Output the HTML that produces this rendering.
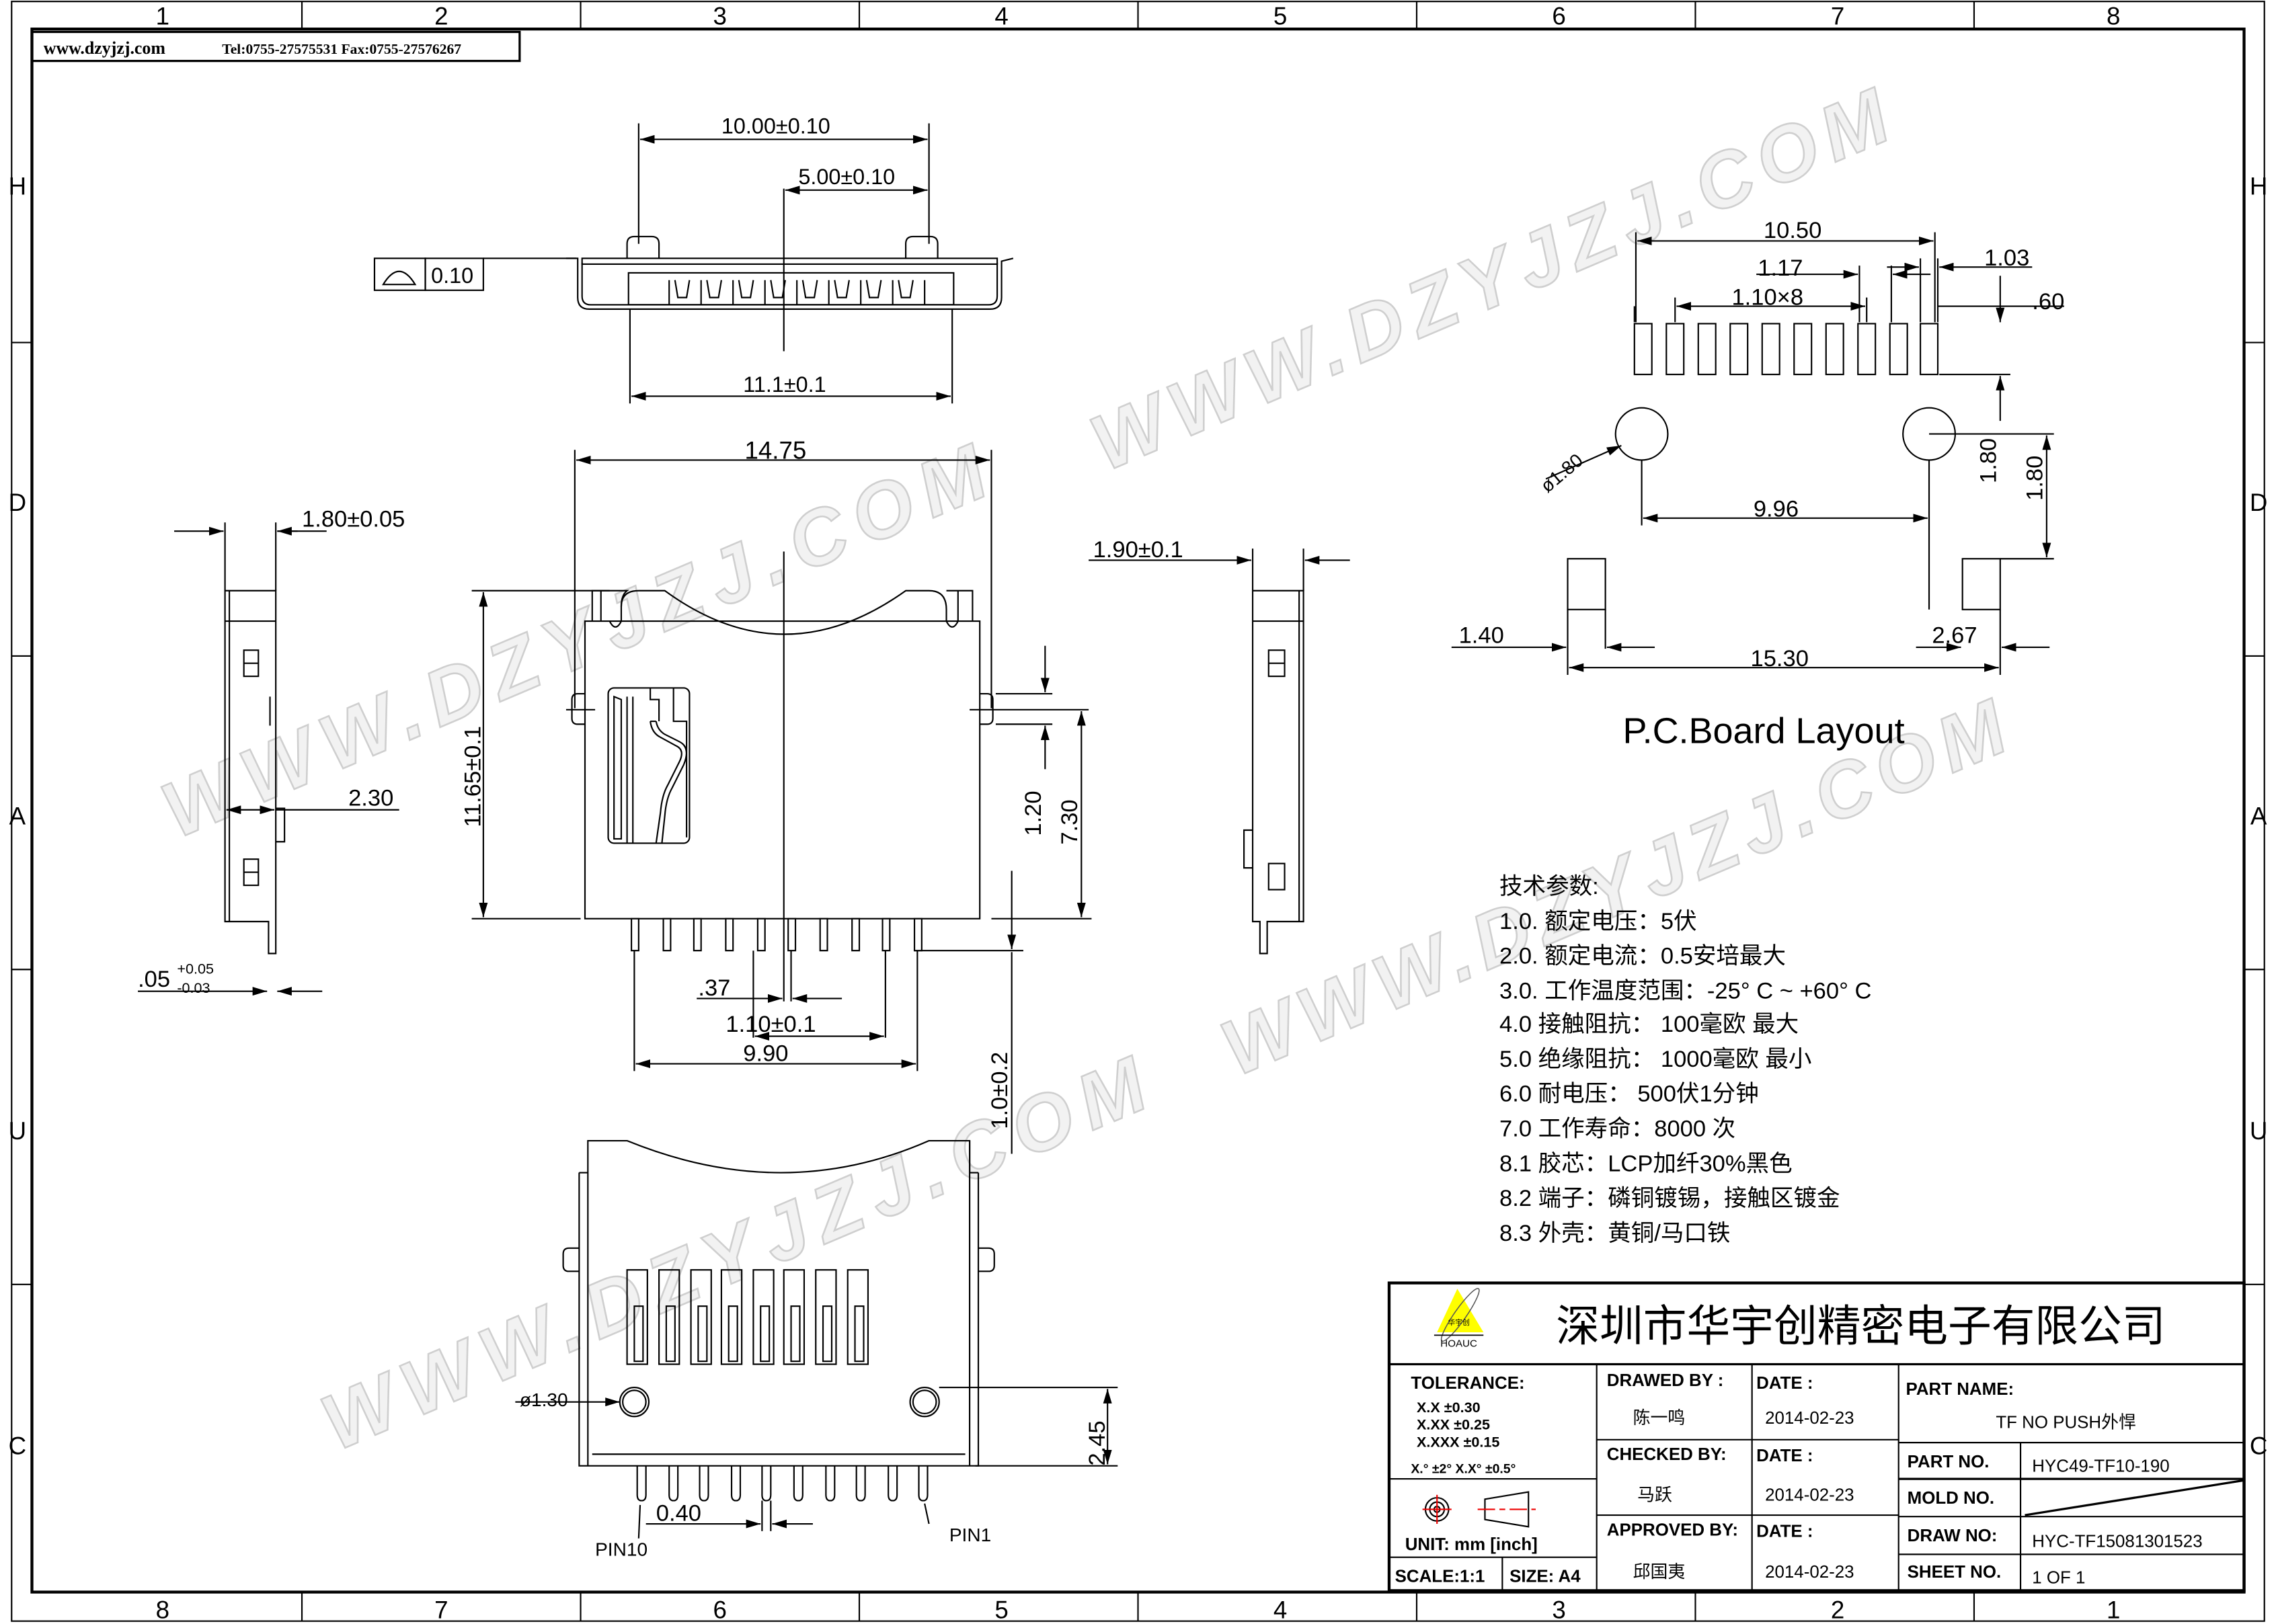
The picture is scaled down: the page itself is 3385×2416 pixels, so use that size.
<!DOCTYPE html>
<html><head><meta charset="utf-8"><style>
html,body{margin:0;padding:0;background:#fff;}
svg{display:block;}
text{font-family:"Liberation Sans","Noto Sans CJK SC",sans-serif;fill:#000;}
.cn{font-family:"Liberation Serif","Noto Serif CJK SC","Noto Sans CJK SC",serif;}
.wm{font-family:"Liberation Sans",sans-serif;font-weight:bold;font-style:italic;fill:#f2f2f2;stroke:#cfcfcf;stroke-width:1.2;font-size:54px;}
</style></head><body>
<svg width="3385" height="2416" viewBox="0 0 1568 1119" preserveAspectRatio="none" xmlns="http://www.w3.org/2000/svg">
<defs>
<marker id="a" viewBox="0 0 10 6" refX="10" refY="3" markerWidth="10" markerHeight="6" orient="auto-start-reverse" markerUnits="userSpaceOnUse"><path d="M0,0 L10,3 L0,6Z" fill="#000"/></marker>
</defs>
<rect width="1568" height="1119" fill="#fff"/>
<g>
<text class="wm" transform="translate(762,325) rotate(-23)" textLength="590" lengthAdjust="spacing">WWW.DZYJZJ.COM</text>
<text class="wm" transform="translate(122,578) rotate(-23)" textLength="610" lengthAdjust="spacing">WWW.DZYJZJ.COM</text>
<text class="wm" transform="translate(852,742) rotate(-23)" textLength="580" lengthAdjust="spacing">WWW.DZYJZJ.COM</text>
<text class="wm" transform="translate(232,1000) rotate(-23)" textLength="610" lengthAdjust="spacing">WWW.DZYJZJ.COM</text>
</g>
<g fill="none" stroke="#000">
<rect x="8" y="1" width="1552" height="1116" stroke-width="1"/>
<rect x="22" y="20" width="1524" height="1077" stroke-width="2"/>
<g stroke-width="1">
<line x1="208" y1="1" x2="208" y2="20"/><line x1="400" y1="1" x2="400" y2="20"/><line x1="592" y1="1" x2="592" y2="20"/><line x1="784" y1="1" x2="784" y2="20"/><line x1="976" y1="1" x2="976" y2="20"/><line x1="1168" y1="1" x2="1168" y2="20"/><line x1="1360" y1="1" x2="1360" y2="20"/>
<line x1="208" y1="1097" x2="208" y2="1117"/><line x1="400" y1="1097" x2="400" y2="1117"/><line x1="592" y1="1097" x2="592" y2="1117"/><line x1="784" y1="1097" x2="784" y2="1117"/><line x1="976" y1="1097" x2="976" y2="1117"/><line x1="1168" y1="1097" x2="1168" y2="1117"/><line x1="1360" y1="1097" x2="1360" y2="1117"/>
<line x1="8" y1="236" x2="22" y2="236"/><line x1="8" y1="452" x2="22" y2="452"/><line x1="8" y1="668" x2="22" y2="668"/><line x1="8" y1="885" x2="22" y2="885"/>
<line x1="1546" y1="236" x2="1560" y2="236"/><line x1="1546" y1="452" x2="1560" y2="452"/><line x1="1546" y1="668" x2="1560" y2="668"/><line x1="1546" y1="885" x2="1560" y2="885"/>
</g>
<rect x="22" y="22" width="336" height="20" stroke-width="1.5"/>
</g>
<g font-size="17" text-anchor="middle">
<text x="112" y="17">1</text><text x="304" y="17">2</text><text x="496" y="17">3</text><text x="690" y="17">4</text><text x="882" y="17">5</text><text x="1074" y="17">6</text><text x="1266" y="17">7</text><text x="1456" y="17">8</text>
<text x="112" y="1115">8</text><text x="304" y="1115">7</text><text x="496" y="1115">6</text><text x="690" y="1115">5</text><text x="882" y="1115">4</text><text x="1074" y="1115">3</text><text x="1266" y="1115">2</text><text x="1456" y="1115">1</text>
<text x="12" y="134">H</text><text x="12" y="352">D</text><text x="12" y="568">A</text><text x="12" y="785">U</text><text x="12" y="1002">C</text>
<text x="1556" y="134">H</text><text x="1556" y="352">D</text><text x="1556" y="568">A</text><text x="1556" y="785">U</text><text x="1556" y="1002">C</text>
</g>
<text class="cn" x="30" y="37" font-size="12" font-weight="bold">www.dzyjzj.com</text>
<text class="cn" x="153" y="37" font-size="10" font-weight="bold">Tel:0755-27575531  Fax:0755-27576267</text>

<g fill="none" stroke="#000" stroke-width="1">
<!-- TOP VIEW -->
<rect x="258" y="178" width="35" height="22"/><rect x="293" y="178" width="40" height="22"/>
<path d="M264,196 Q275,178 286,196Z"/>
<line x1="333" y1="178" x2="397" y2="178"/>
<path d="M390,178 L398,178 L398,205 Q398,213 406,213 L682,213 Q690,213 690,205 L690,180 L698,178"/>
<path d="M401,181 L401,204 Q401,210 407,210 L681,210 Q687,210 687,204 L687,181"/>
<rect x="401" y="178" width="286" height="4"/>
<rect x="433" y="188" width="224" height="22"/>
<path d="M432,168 L432,178 M454,168 L454,178 M432,168 Q432,163 437,163 L449,163 Q454,163 454,168"/>
<path d="M624,168 L624,178 M646,168 L646,178 M624,168 Q624,163 629,163 L641,163 Q646,163 646,168"/>
<path d="M461,193 L461,210 M483,193 L483,210 M505,193 L505,210 M527,193 L527,210 M549,193 L549,210 M571,193 L571,210 M593,193 L593,210 M615,193 L615,210 M637,193 L637,210"/>
<path d="M465,193 l2,12 l6,0 l2,-12 M487,193 l2,12 l6,0 l2,-12 M509,193 l2,12 l6,0 l2,-12 M531,193 l2,12 l6,0 l2,-12 M553,193 l2,12 l6,0 l2,-12 M575,193 l2,12 l6,0 l2,-12 M597,193 l2,12 l6,0 l2,-12 M619,193 l2,12 l6,0 l2,-12"/>
<line x1="540" y1="130" x2="540" y2="242"/>
<line x1="440" y1="85" x2="440" y2="168"/><line x1="640" y1="85" x2="640" y2="168"/>
<line x1="441" y1="96" x2="639" y2="96" marker-start="url(#a)" marker-end="url(#a)"/>
<line x1="541" y1="131" x2="639" y2="131" marker-start="url(#a)" marker-end="url(#a)"/>
<line x1="434" y1="213" x2="434" y2="278"/><line x1="656" y1="213" x2="656" y2="278"/>
<line x1="435" y1="273" x2="655" y2="273" marker-start="url(#a)" marker-end="url(#a)"/>

<!-- MAIN VIEW -->
<line x1="396" y1="310" x2="396" y2="488"/><line x1="683" y1="310" x2="683" y2="488"/>
<line x1="397" y1="317" x2="682" y2="317" marker-start="url(#a)" marker-end="url(#a)"/>
<rect x="403" y="428" width="272" height="205"/>
<path d="M408,428 L408,407 L432,407 Q428,410 428,418 L428,428"/>
<line x1="414" y1="407" x2="414" y2="428"/>
<path d="M420,428 q4,8 8,0"/>
<path d="M428,418 Q428,407 440,407 L458,407 Q540,467 624,407 L640,407 Q652,407 652,420 L652,428"/>
<path d="M652,428 q4,8 8,0"/>
<path d="M660,428 L660,407 L670,407 L670,428 M652,407 L660,407"/>
<path d="M403,478 L398,478 Q394,478 394,482 L394,495 Q394,499 398,499 L403,499"/>
<path d="M675,478 L680,478 Q684,478 684,482 L684,495 Q684,499 680,499 L675,499"/>
<line x1="390" y1="489" x2="410" y2="489"/><line x1="668" y1="489" x2="750" y2="489"/>
<rect x="419" y="474" width="56" height="107" rx="4"/>
<path d="M423,480 L423,578 L428,578 L428,482 Z M432,480 L432,581 M436,480 L436,581 M448,474 L448,482 L454,482 L454,497 M464,474 L464,497 L473,497 L473,577 M448,497 Q449,505 455,508 L466,514 Q472,517 468,525 L460,541 Q456,548 455,560 L452,581 M452,497 Q453,503 458,506 L468,511 Q476,515 471,527 L463,543 Q459,550 458,562 L456,581 M448,497 L452,497"/>
<line x1="540" y1="380" x2="540" y2="690"/>
<line x1="325" y1="407" x2="420" y2="407"/><line x1="325" y1="633" x2="400" y2="633"/>
<line x1="333" y1="408" x2="333" y2="632" marker-start="url(#a)" marker-end="url(#a)"/>
<line x1="683" y1="633" x2="752" y2="633"/>
<line x1="745" y1="490" x2="745" y2="632" marker-start="url(#a)" marker-end="url(#a)"/>
<line x1="686" y1="478" x2="725" y2="478"/><line x1="686" y1="499" x2="725" y2="499"/>
<line x1="720" y1="445" x2="720" y2="477" marker-end="url(#a)"/>
<line x1="720" y1="530" x2="720" y2="500" marker-end="url(#a)"/>
<line x1="630" y1="655" x2="705" y2="655"/>
<line x1="697" y1="600" x2="697" y2="654" marker-end="url(#a)"/>
<line x1="697" y1="656" x2="697" y2="795"/>
</g>
<g fill="#fff" stroke="#000" stroke-width="1">
<rect x="435" y="633" width="5" height="22"/><rect x="457" y="633" width="5" height="22"/><rect x="478" y="633" width="5" height="22"/><rect x="500" y="633" width="5" height="22"/><rect x="522" y="633" width="5" height="22"/><rect x="543" y="633" width="5" height="22"/><rect x="565" y="633" width="5" height="22"/><rect x="587" y="633" width="5" height="22"/><rect x="608" y="633" width="5" height="22"/><rect x="630" y="633" width="5" height="22"/>
</g>
<g fill="none" stroke="#000" stroke-width="1">
<line x1="437" y1="655" x2="437" y2="738"/><line x1="632" y1="655" x2="632" y2="738"/>
<line x1="610" y1="655" x2="610" y2="715"/><line x1="519" y1="655" x2="519" y2="715"/><line x1="545" y1="655" x2="545" y2="690"/>
<line x1="438" y1="733" x2="631" y2="733" marker-start="url(#a)" marker-end="url(#a)"/>
<line x1="520" y1="714" x2="609" y2="714" marker-start="url(#a)" marker-end="url(#a)"/>
<line x1="480" y1="688" x2="539" y2="688" marker-end="url(#a)"/>
<line x1="580" y1="688" x2="546" y2="688" marker-end="url(#a)"/>

<!-- LEFT SIDE VIEW -->
<path d="M155,407 L155,635 L185,635 L185,657 L190,657 L190,635 L190,407 Z"/>
<line x1="155" y1="428" x2="190" y2="428"/>
<line x1="158" y1="407" x2="158" y2="635"/>
<rect x="168" y="448" width="10" height="18"/><line x1="168" y1="457" x2="178" y2="457"/>
<rect x="168" y="592" width="10" height="18"/><line x1="168" y1="601" x2="178" y2="601"/>
<path d="M190,557 L196,557 L196,580 L190,580"/>
<line x1="186" y1="480" x2="186" y2="500"/>
<line x1="155" y1="360" x2="155" y2="407"/><line x1="190" y1="360" x2="190" y2="407"/>
<line x1="120" y1="366" x2="154" y2="366" marker-end="url(#a)"/>
<line x1="191" y1="366" x2="205" y2="366"/>
<line x1="225" y1="366" x2="191" y2="366" marker-end="url(#a)"/>
<line x1="156" y1="558" x2="189" y2="558" marker-start="url(#a)" marker-end="url(#a)"/>
<line x1="190" y1="558" x2="275" y2="558"/>
<line x1="95" y1="683" x2="184" y2="683" marker-end="url(#a)"/>
<line x1="222" y1="683" x2="191" y2="683" marker-end="url(#a)"/>

<!-- RIGHT SIDE VIEW -->
<path d="M863,407 L863,635 L868,635 L868,657 L873,657 L873,635 L898,635 L898,407 Z"/>
<line x1="863" y1="428" x2="898" y2="428"/>
<line x1="895" y1="407" x2="895" y2="635"/>
<rect x="874" y="448" width="11" height="18"/><line x1="874" y1="457" x2="885" y2="457"/>
<rect x="874" y="595" width="11" height="18"/>
<path d="M863,572 L857,572 L857,598 L863,598"/>
<line x1="863" y1="378" x2="863" y2="407"/><line x1="898" y1="378" x2="898" y2="407"/>
<line x1="750" y1="386" x2="862" y2="386" marker-end="url(#a)"/>
<line x1="930" y1="386" x2="899" y2="386" marker-end="url(#a)"/>

<!-- PCB LAYOUT -->
<rect x="1126" y="223" width="12" height="35"/><rect x="1148" y="223" width="12" height="35"/><rect x="1170" y="223" width="12" height="35"/><rect x="1192" y="223" width="12" height="35"/><rect x="1214" y="223" width="12" height="35"/><rect x="1236" y="223" width="12" height="35"/><rect x="1258" y="223" width="12" height="35"/><rect x="1280" y="223" width="12" height="35"/><rect x="1302" y="223" width="12" height="35"/><rect x="1323" y="223" width="12" height="35"/>
<circle cx="1131" cy="299" r="18"/><circle cx="1329" cy="299" r="18"/>
<line x1="1127" y1="160" x2="1127" y2="222"/><line x1="1333" y1="160" x2="1333" y2="222"/>
<line x1="1128" y1="166" x2="1332" y2="166" marker-start="url(#a)" marker-end="url(#a)"/>
<line x1="1281" y1="183" x2="1281" y2="222"/><line x1="1303" y1="183" x2="1303" y2="222"/>
<line x1="1210" y1="189" x2="1280" y2="189" marker-end="url(#a)"/><line x1="1330" y1="189" x2="1304" y2="189" marker-end="url(#a)"/>
<line x1="1154" y1="205" x2="1154" y2="222"/><line x1="1286" y1="205" x2="1286" y2="222"/>
<line x1="1155" y1="211" x2="1285" y2="211" marker-start="url(#a)" marker-end="url(#a)"/>
<line x1="1323" y1="178" x2="1323" y2="222"/><line x1="1335" y1="178" x2="1335" y2="222"/>
<line x1="1300" y1="184" x2="1322" y2="184" marker-end="url(#a)"/><line x1="1400" y1="184" x2="1336" y2="184" marker-end="url(#a)"/>
<line x1="1126" y1="211" x2="1126" y2="222"/>
<line x1="1335" y1="211" x2="1422" y2="211"/>
<line x1="1378" y1="190" x2="1378" y2="222" marker-end="url(#a)"/>
<line x1="1378" y1="290" x2="1378" y2="259" marker-end="url(#a)"/>
<line x1="1336" y1="258" x2="1385" y2="258"/>
<line x1="1131" y1="317" x2="1131" y2="362"/><line x1="1329" y1="317" x2="1329" y2="420"/>
<line x1="1132" y1="357" x2="1328" y2="357" marker-start="url(#a)" marker-end="url(#a)"/>
<line x1="1329" y1="299" x2="1415" y2="299"/><line x1="1378" y1="385" x2="1415" y2="385"/>
<line x1="1410" y1="300" x2="1410" y2="384" marker-start="url(#a)" marker-end="url(#a)"/>
<line x1="1065" y1="330" x2="1117" y2="307" marker-end="url(#a)"/>
<rect x="1080" y="385" width="26" height="35"/><rect x="1352" y="385" width="26" height="35"/>
<line x1="1080" y1="420" x2="1080" y2="465"/><line x1="1378" y1="420" x2="1378" y2="465"/><line x1="1106" y1="420" x2="1106" y2="447"/>
<line x1="1000" y1="446" x2="1079" y2="446" marker-end="url(#a)"/><line x1="1140" y1="446" x2="1107" y2="446" marker-end="url(#a)"/>
<line x1="1320" y1="446" x2="1351" y2="446" marker-end="url(#a)"/><line x1="1412" y1="446" x2="1379" y2="446" marker-end="url(#a)"/>
<line x1="1081" y1="460" x2="1377" y2="460" marker-start="url(#a)" marker-end="url(#a)"/>

<!-- BOTTOM VIEW -->
<path d="M405,1010 L405,786 L432,786 Q540,830 640,786 L668,786 L668,1010"/>
<line x1="668" y1="786" x2="668" y2="808"/>
<path d="M399,808 L399,1010 L668,1010 M674,808 L674,1010 L668,1010 M399,808 L405,808 M668,808 L674,808"/>
<path d="M399,860 L392,860 Q388,860 388,864 L388,872 Q388,876 392,876 L399,876"/>
<path d="M674,860 L681,860 Q685,860 685,864 L685,872 Q685,876 681,876 L674,876"/>
<line x1="408" y1="1002" x2="665" y2="1002"/>
<circle cx="437" cy="966" r="10"/><circle cx="637" cy="966" r="10"/>
<circle cx="437" cy="966" r="8"/><circle cx="637" cy="966" r="8"/>
<g>
<rect x="432" y="875" width="14" height="65"/><rect x="454" y="875" width="14" height="65"/><rect x="476" y="875" width="14" height="65"/><rect x="497" y="875" width="14" height="65"/><rect x="519" y="875" width="14" height="65"/><rect x="540" y="875" width="14" height="65"/><rect x="562" y="875" width="14" height="65"/><rect x="584" y="875" width="14" height="65"/>
<rect x="437" y="900" width="6" height="38"/><rect x="459" y="900" width="6" height="38"/><rect x="481" y="900" width="6" height="38"/><rect x="502" y="900" width="6" height="38"/><rect x="524" y="900" width="6" height="38"/><rect x="545" y="900" width="6" height="38"/><rect x="567" y="900" width="6" height="38"/><rect x="589" y="900" width="6" height="38"/>
</g>
<path d="M439,1010 l0,20 q0,4 3,4 q3,0 3,-4 l0,-20 M461,1010 l0,20 q0,4 3,4 q3,0 3,-4 l0,-20 M482,1010 l0,20 q0,4 3,4 q3,0 3,-4 l0,-20 M504,1010 l0,20 q0,4 3,4 q3,0 3,-4 l0,-20 M525,1010 l0,20 q0,4 3,4 q3,0 3,-4 l0,-20 M547,1010 l0,20 q0,4 3,4 q3,0 3,-4 l0,-20 M569,1010 l0,20 q0,4 3,4 q3,0 3,-4 l0,-20 M590,1010 l0,20 q0,4 3,4 q3,0 3,-4 l0,-20 M612,1010 l0,20 q0,4 3,4 q3,0 3,-4 l0,-20 M633,1010 l0,20 q0,4 3,4 q3,0 3,-4 l0,-20"/>
<line x1="525" y1="1034" x2="525" y2="1055"/><line x1="531" y1="1034" x2="531" y2="1055"/>
<line x1="445" y1="1050" x2="524" y2="1050" marker-end="url(#a)"/><line x1="560" y1="1050" x2="532" y2="1050" marker-end="url(#a)"/>
<line x1="355" y1="966" x2="427" y2="966" marker-end="url(#a)"/>
<line x1="647" y1="956" x2="770" y2="956"/><line x1="672" y1="1010" x2="770" y2="1010"/>
<line x1="763" y1="957" x2="763" y2="1009" marker-start="url(#a)" marker-end="url(#a)"/>
<line x1="440" y1="1060" x2="441" y2="1037"/>
<line x1="640" y1="1050" x2="637" y2="1036"/>

<!-- TITLE BLOCK -->
<rect x="957" y="884" width="589" height="212" stroke-width="2"/>
<line x1="957" y1="940" x2="1546" y2="940" stroke-width="1.5"/>
<line x1="1100" y1="940" x2="1100" y2="1096"/><line x1="1207" y1="940" x2="1207" y2="1096"/><line x1="1308" y1="940" x2="1308" y2="1096"/>
<line x1="1100" y1="992" x2="1308" y2="992"/><line x1="1100" y1="1044" x2="1308" y2="1044"/>
<line x1="1308" y1="994" x2="1546" y2="994"/><line x1="1308" y1="1019" x2="1546" y2="1019" stroke-width="1.5"/><line x1="1308" y1="1045" x2="1546" y2="1045"/><line x1="1308" y1="1071" x2="1546" y2="1071"/>
<line x1="1392" y1="994" x2="1392" y2="1096"/>
<line x1="1395" y1="1044" x2="1546" y2="1020" stroke-width="1.5"/>
<line x1="957" y1="1019" x2="1100" y2="1019"/><line x1="957" y1="1073" x2="1100" y2="1073"/>
<line x1="1035" y1="1073" x2="1035" y2="1096"/>
<circle cx="990" cy="1040" r="8"/><circle cx="990" cy="1040" r="5"/><circle cx="990" cy="1040" r="2"/>
<path d="M1023,1033 L1053,1028 L1053,1052 L1023,1047Z"/>
</g>
<line x1="980" y1="1040" x2="1000" y2="1040" stroke="#e00" stroke-width="1"/>
<line x1="990" y1="1030" x2="990" y2="1050" stroke="#e00" stroke-width="1"/>
<line x1="1018" y1="1040" x2="1058" y2="1040" stroke="#e00" stroke-width="1" stroke-dasharray="12,3,4,3"/>
<polygon points="1004,888 990,918 1022,918" fill="#ffff00"/>
<ellipse cx="1006" cy="906" rx="22" ry="4" transform="rotate(-55 1006 906)" fill="none" stroke="#555" stroke-width="0.7"/>
<line x1="988" y1="920" x2="1022" y2="920" stroke="#000" stroke-width="0.8"/>
<text x="1005" y="928" font-size="7" text-anchor="middle">HOAUC</text>
<text x="1005" y="913" font-size="5" text-anchor="middle" fill="#900">华宇创</text>

<g font-size="15">
<text x="497" y="92">10.00±0.10</text>
<text x="550" y="127">5.00±0.10</text>
<text x="297" y="195">0.10</text>
<text x="512" y="270">11.1±0.1</text>
<text x="513" y="316" font-size="17">14.75</text>
<text x="208" y="363" font-size="16">1.80±0.05</text>
<text x="240" y="555" font-size="16">2.30</text>
<text x="95" y="680" font-size="16">.05</text>
<text x="122" y="671" font-size="10">+0.05</text>
<text x="122" y="684" font-size="10">-0.03</text>
<text x="753" y="384" font-size="16">1.90±0.1</text>
<text x="481" y="686" font-size="16">.37</text>
<text x="500" y="711" font-size="16">1.10±0.1</text>
<text x="512" y="731" font-size="16">9.90</text>
<text transform="translate(331,570) rotate(-90)" font-size="16">11.65±0.1</text>
<text transform="translate(742,582) rotate(-90)" font-size="16">7.30</text>
<text transform="translate(717,576) rotate(-90)" font-size="16">1.20</text>
<text transform="translate(694,778) rotate(-90)" font-size="16">1.0±0.2</text>
<text x="1215" y="164" font-size="16">10.50</text>
<text x="1211" y="190" font-size="16">1.17</text>
<text x="1193" y="210" font-size="16">1.10×8</text>
<text x="1367" y="183" font-size="16">1.03</text>
<text x="1400" y="213" font-size="16">.60</text>
<text x="1208" y="356" font-size="16">9.96</text>
<text transform="translate(1066,340) rotate(-40)" font-size="13">ø1.80</text>
<text transform="translate(1375,333) rotate(-90)" font-size="16">1.80</text>
<text transform="translate(1407,345) rotate(-90)" font-size="16">1.80</text>
<text x="1005" y="443" font-size="16">1.40</text>
<text x="1331" y="443" font-size="16">2.67</text>
<text x="1206" y="459" font-size="16">15.30</text>
<text x="1118" y="512" font-size="25">P.C.Board Layout</text>
<text x="358" y="969" font-size="13">ø1.30</text>
<text transform="translate(761,1010) rotate(-90)" font-size="16">2.45</text>
<text x="452" y="1048" font-size="16">0.40</text>
<text x="410" y="1072" font-size="13">PIN10</text>
<text x="654" y="1062" font-size="13">PIN1</text>
</g>
<g class="cn" font-size="16">
<text x="1033" y="616">技术参数:</text>
<text x="1033" y="640">1.0. 额定电压：5伏</text>
<text x="1033" y="664">2.0. 额定电流：0.5安培最大</text>
<text x="1033" y="688">3.0. 工作温度范围：-25° C ~ +60° C</text>
<text x="1033" y="711">4.0  接触阻抗：  100毫欧     最大</text>
<text x="1033" y="735">5.0  绝缘阻抗：  1000毫欧   最小</text>
<text x="1033" y="759">6.0  耐电压：  500伏1分钟</text>
<text x="1033" y="783">7.0  工作寿命：8000 次</text>
<text x="1033" y="807">8.1  胶芯：LCP加纤30%黑色</text>
<text x="1033" y="831">8.2  端子：磷铜镀锡，接触区镀金</text>
<text x="1033" y="855">8.3  外壳：黄铜/马口铁</text>
</g>
<text x="1072" y="924" font-size="30" font-family="'Noto Sans CJK SC',sans-serif">深圳市华宇创精密电子有限公司</text>
<g font-size="12" font-weight="bold">
<text x="972" y="957">TOLERANCE:</text>
<text x="976" y="973" font-size="10">X.X      ±0.30</text>
<text x="976" y="985" font-size="10">X.XX    ±0.25</text>
<text x="976" y="997" font-size="10">X.XXX  ±0.15</text>
<text x="972" y="1015" font-size="9">X.°  ±2°       X.X°  ±0.5°</text>
<text x="968" y="1068">UNIT:  mm  [inch]</text>
<text x="961" y="1090">SCALE:1:1</text>
<text x="1040" y="1090">SIZE:  A4</text>
<text x="1107" y="955">DRAWED  BY :</text>
<text x="1210" y="957">DATE  :</text>
<text x="1107" y="1006">CHECKED  BY:</text>
<text x="1210" y="1007">DATE  :</text>
<text x="1107" y="1058">APPROVED  BY:</text>
<text x="1210" y="1059">DATE  :</text>
<text x="1313" y="961">PART  NAME:</text>
<text x="1314" y="1011">PART  NO.</text>
<text x="1314" y="1036">MOLD  NO.</text>
<text x="1314" y="1062">DRAW  NO:</text>
<text x="1314" y="1087">SHEET  NO.</text>
</g>
<g class="cn" font-size="12">
<text x="1125" y="981">陈一鸣</text>
<text x="1128" y="1034">马跃</text>
<text x="1125" y="1087">邱国夷</text>
<text x="1216" y="981">2014-02-23</text>
<text x="1216" y="1034">2014-02-23</text>
<text x="1216" y="1087">2014-02-23</text>
<text x="1375" y="984">TF NO PUSH外悍</text>
<text x="1400" y="1014">HYC49-TF10-190</text>
<text x="1400" y="1066">HYC-TF15081301523</text>
<text x="1400" y="1091">1 OF 1</text>
</g>
</svg>
</body></html>
